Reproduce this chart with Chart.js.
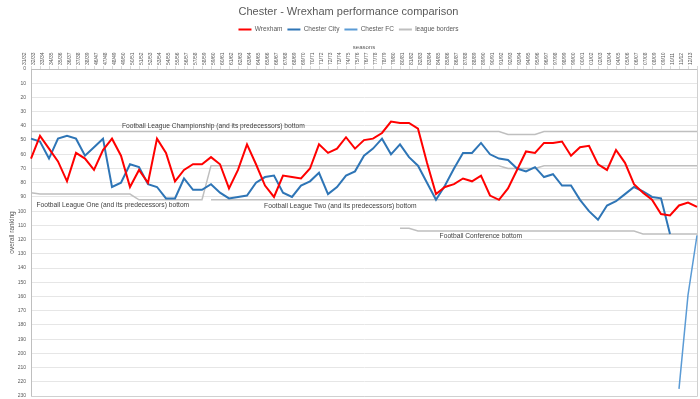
<!DOCTYPE html>
<html lang="en">
<head>
    <meta charset="UTF-8" />
    <title>Chester - Wrexham performance comparison</title>
    <script src="https://cdn.jsdelivr.net/npm/chart.js"></script>
    <style>
        body { margin: 0; background: #fff; }
    </style>
</head>
<body>
    <canvas id="chart" width="700" height="399"></canvas>

    <script>
        // seasons (no league football 39/40 - 45/46)
        const seasons = [
            "31/32","32/33","33/34","34/35","35/36","36/37","37/38","38/39",
            "46/47","47/48","48/49","49/50","50/51","51/52","52/53","53/54","54/55","55/56","56/57","57/58",
            "58/59","59/60","60/61","61/62","62/63","63/64","64/65","65/66","66/67","67/68",
            "68/69","69/70","70/71","71/72","72/73","73/74","74/75","75/76","76/77","77/78",
            "78/79","79/80","80/81","81/82","82/83","83/84","84/85","85/86","86/87","87/88",
            "88/89","89/90","90/91","91/92","92/93","93/94","94/95","95/96","96/97","97/98",
            "98/99","99/00","00/01","01/02","02/03","03/04","04/05","05/06","06/07","07/08",
            "08/09","09/10","10/11","11/12","12/13"
        ];

        // overall ranking per season
        const wrexham = [
            63, 47, 56, 65, 79, 59, 63, 71, 57, 49, 61, 83, 71, 80, 49, 59, 79, 71, 67, 67,
            62, 67, 84, 71, 53, 67, 82, 90, 75, 76, 77, 70, 53, 59, 56, 48, 56, 50, 49,
            45, 37, 38, 38, 42, 66, 88, 83, 81, 77, 79, 75, 89, 92, 84, 71, 58, 59,
            52, 52, 51, 61, 55, 54, 67, 71, 57, 66, 81, 87, 92, 102, 103, 96, 94, 97
        ];
        const chesterCity = [
            49, 51, 63, 49, 47, 49, 61, 55, 49, 83, 80, 67, 69, 81, 83, 91, 91, 77, 85, 85,
            81, 87, 91, 90, 89, 80, 76, 75, 87, 90, 82, 79, 73, 88, 83, 75, 72, 61, 56,
            49, 60, 53, 62, 68, 80, 92, 82, 70, 59, 59, 52, 60, 63, 64, 70, 72, 69,
            76, 74, 82, 82, 92, 100, 106, 96, 93, 88, 83, 86, 90, 91, 116, null, null, null
        ];
        const chesterFC = [
            null, null, null, null, null, null, null, null, null, null,
            null, null, null, null, null, null, null, null, null, null,
            null, null, null, null, null, null, null, null, null, null,
            null, null, null, null, null, null, null, null, null, null,
            null, null, null, null, null, null, null, null, null, null,
            null, null, null, null, null, null, null, null, null, null,
            null, null, null, null, null, null, null, null, null, null,
            null, null, 225, 159, 117
        ];

        // league borders
        const championshipBottom = [
            44, 44, 44, 44, 44, 44, 44, 44, 44, 44,
            44, 44, 44, 44, 44, 44, 44, 44, 44, 44,
            44, 44, 44, 44, 44, 44, 44, 44, 44, 44,
            44, 44, 44, 44, 44, 44, 44, 44, 44, 44,
            44, 44, 44, 44, 44, 44, 44, 44, 44, 44,
            44, 44, 44, 46, 46, 46, 46, 44, 44, 44,
            44, 44, 44, 44, 44, 44, 44, 44, 44, 44,
            44, 44, 44, 44, 44
        ];
        const leagueOneBottom = [
            87, 88, 88, 88, 88, 88, 88, 88, 88, 88,
            88, 88, 92, 92, 92, 92, 92, 92, 92, 92,
            68, 68, 68, 68, 68, 68, 68, 68, 68, 68,
            68, 68, 68, 68, 68, 68, 68, 68, 68, 68,
            68, 68, 68, 68, 68, 68, 68, 68, 68, 68,
            68, 68, 68, 70, 70, 70, 70, 68, 68, 68,
            68, 68, 68, 68, 68, 68, 68, 68, 68, 68,
            68, 68, 68, 68, 68
        ];
        const leagueTwoBottom = [
            null, null, null, null, null, null, null, null, null, null,
            null, null, null, null, null, null, null, null, null, null,
            92, 92, 92, 92, 92, 92, 92, 92, 92, 92,
            92, 92, 92, 92, 92, 92, 92, 92, 92, 92,
            92, 92, 92, 92, 92, 92, 92, 92, 92, 92,
            92, 92, 92, 92, 92, 92, 92, 92, 92, 92,
            92, 92, 92, 92, 92, 92, 92, 92, 92, 92,
            92, 92, 92, 92, 92
        ];
        const conferenceBottom = [
            null, null, null, null, null, null, null, null, null, null,
            null, null, null, null, null, null, null, null, null, null,
            null, null, null, null, null, null, null, null, null, null,
            null, null, null, null, null, null, null, null, null, null,
            null, 112, 112, 114, 114, 114, 114, 114, 114, 114,
            114, 114, 114, 114, 114, 114, 114, 114, 114, 114,
            114, 114, 114, 114, 114, 114, 114, 114, 116, 116,
            116, 116, 116, 116, 116
        ];

        const yTicksMax = 230;
        const yTickStep = 10;

        // text labels placed at (season index, ranking)
        const borderNotes = [
            { text: "Football League Championship (and its predecessors) bottom", at: 10.1, rank: 40 },
            { text: "Football League One (and its predecessors) bottom", at: 0.6, rank: 95.5 },
            { text: "Football League Two (and its predecessors) bottom", at: 25.9, rank: 96.5 },
            { text: "Football Conference bottom", at: 45.4, rank: 117.5 }
        ];

        const FONT = "'Liberation Sans', Arial, sans-serif";
        const TEXT = "#595959";
        const GREY = "#bfbfbf";

        const notesPlugin = {
            id: "notes",
            beforeDatasetsDraw(chart) {
                // thin frame round the plot area
                const { ctx, chartArea: a } = chart;
                ctx.save();
                ctx.strokeStyle = "#d0d0d0";
                ctx.lineWidth = 1;
                ctx.beginPath();
                ctx.moveTo(a.right + 0.5, a.top);
                ctx.lineTo(a.right + 0.5, a.bottom + 0.5);
                ctx.lineTo(a.left, a.bottom + 0.5);
                ctx.stroke();
                ctx.restore();
            },
            afterDatasetsDraw(chart) {
                const { ctx } = chart;
                const x = chart.scales.x, y = chart.scales.y;
                ctx.save();
                ctx.font = "6.7px " + FONT;
                ctx.fillStyle = "#404040";
                ctx.textBaseline = "middle";
                ctx.textAlign = "left";
                borderNotes.forEach(n => {
                    ctx.fillText(n.text, x.getPixelForValue(n.at), y.getPixelForValue(n.rank));
                });
                ctx.restore();
            }
        };

        function borderSet(data, label) {
            return {
                label: label,
                data: data,
                borderColor: GREY,
                backgroundColor: GREY,
                borderWidth: 1.5,
                pointRadius: 0,
                tension: 0
            };
        }

        new Chart(document.getElementById("chart"), {
            type: "line",
            data: {
                labels: seasons,
                datasets: [
                    { label: "Wrexham", data: wrexham, borderColor: "#ff0000", backgroundColor: "#ff0000", borderWidth: 2, pointRadius: 0, tension: 0 },
                    { label: "Chester City", data: chesterCity, borderColor: "#2e75b6", backgroundColor: "#2e75b6", borderWidth: 2, pointRadius: 0, tension: 0 },
                    { label: "Chester FC", data: chesterFC, borderColor: "#5b9bd5", backgroundColor: "#5b9bd5", borderWidth: 1.5, pointRadius: 0, tension: 0 },
                    borderSet(championshipBottom, "league borders"),
                    borderSet(leagueOneBottom, "league borders"),
                    borderSet(leagueTwoBottom, "league borders"),
                    borderSet(conferenceBottom, "league borders")
                ]
            },
            options: {
                responsive: false,
                animation: false,
                layout: { padding: { left: 0, right: 3, top: 0, bottom: 3 } },
                plugins: {
                    title: {
                        display: true,
                        text: "Chester - Wrexham performance comparison",
                        color: TEXT,
                        font: { family: FONT, size: 11, weight: "normal" },
                        padding: { top: 5, bottom: 3 }
                    },
                    legend: {
                        position: "top",
                        labels: {
                            color: TEXT,
                            font: { family: FONT, size: 6.5 },
                            boxWidth: 13,
                            boxHeight: 2,
                            padding: 5,
                            generateLabels(chart) {
                                return Chart.defaults.plugins.legend.labels.generateLabels(chart)
                                    .filter(l => l.datasetIndex <= 3)
                                    .map(l => Object.assign(l, { lineWidth: 0, fillStyle: l.strokeStyle }));
                            }
                        }
                    },
                    tooltip: { enabled: false }
                },
                scales: {
                    x: {
                        position: "top",
                        offset: false,
                        title: { display: true, text: "seasons", color: TEXT, font: { family: FONT, size: 6 }, padding: { top: 1, bottom: 0 } },
                        ticks: { autoSkip: false, minRotation: 90, maxRotation: 90, color: TEXT, font: { family: FONT, size: 5 }, padding: 1 },
                        grid: { drawOnChartArea: false, drawTicks: true, tickLength: 3, color: "#d9d9d9" },
                        border: { color: GREY },
                        afterFit(scale) { scale.height = 26.3; }
                    },
                    y: {
                        reverse: true,
                        min: 0,
                        max: yTicksMax,
                        title: { display: true, text: "overall ranking", color: TEXT, font: { family: FONT, size: 6.5 }, padding: { top: 8, bottom: 0 } },
                        ticks: { stepSize: yTickStep, color: TEXT, font: { family: FONT, size: 5 }, padding: 5 },
                        grid: { color: "#e6e6e6", drawTicks: false },
                        border: { color: GREY },
                        afterFit(scale) {
                            scale.width = 31;
                            scale.paddingTop = 0;
                            scale.paddingBottom = 0;
                        }
                    }
                }
            },
            plugins: [notesPlugin]
        });
    </script>
</body>
</html>
